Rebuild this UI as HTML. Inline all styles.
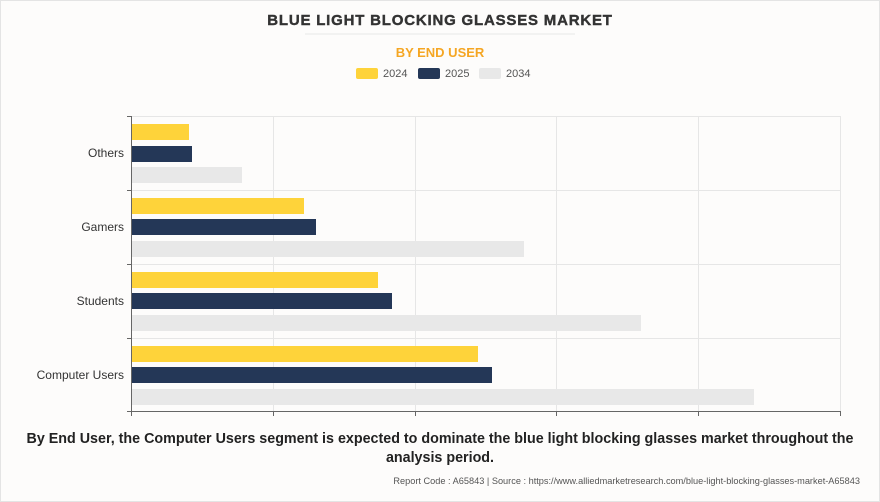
<!DOCTYPE html>
<html><head><meta charset="utf-8"><style>
html,body{margin:0;padding:0;background:#fff}
#c{position:relative;width:878px;height:500px;border:1px solid #e4e4e4;background:#fdfcfb;font-family:"Liberation Sans",Arial,sans-serif;overflow:hidden}
</style></head><body><div id="c">
<svg width="878" height="500" viewBox="1 1 878 500" style="position:absolute;left:0;top:0">
<text x="440" y="25" text-anchor="middle" font-size="15" font-weight="bold" fill="#333" stroke="#333" stroke-width="0.4" letter-spacing="0.8">BLUE LIGHT BLOCKING GLASSES MARKET</text>
<line x1="305" y1="34" x2="575" y2="34" stroke="#eee" stroke-width="1.5"/>
<text x="440" y="57" text-anchor="middle" font-size="13" font-weight="bold" fill="#f5a623">BY END USER</text>
<rect x="356" y="68" width="22" height="11" rx="2" fill="#fed33a"/><text x="383" y="77" font-size="11" fill="#555">2024</text>
<rect x="418" y="68" width="22" height="11" rx="2" fill="#243757"/><text x="445" y="77" font-size="11" fill="#555">2025</text>
<rect x="479" y="68" width="22" height="11" rx="2" fill="#e8e8e8"/><text x="506" y="77" font-size="11" fill="#555">2034</text>
<g stroke="#e6e6e6" stroke-width="1">
<line x1="273.5" y1="116" x2="273.5" y2="411"/><line x1="415.5" y1="116" x2="415.5" y2="411"/><line x1="556.5" y1="116" x2="556.5" y2="411"/><line x1="698.5" y1="116" x2="698.5" y2="411"/><line x1="840.5" y1="116" x2="840.5" y2="411"/>
<line x1="132" y1="116.5" x2="840" y2="116.5"/><line x1="132" y1="190.5" x2="840" y2="190.5"/><line x1="132" y1="264.5" x2="840" y2="264.5"/><line x1="132" y1="338.5" x2="840" y2="338.5"/>
</g>
<g fill="#fed33a"><rect x="132" y="124" width="57" height="16"/><rect x="132" y="198" width="172" height="16"/><rect x="132" y="272" width="246" height="16"/><rect x="132" y="346" width="346" height="16"/></g>
<g fill="#243757"><rect x="132" y="146" width="60" height="16"/><rect x="132" y="219" width="184" height="16"/><rect x="132" y="293" width="260" height="16"/><rect x="132" y="367" width="360" height="16"/></g>
<g fill="#e8e8e8"><rect x="132" y="167" width="110" height="16"/><rect x="132" y="241" width="392" height="16"/><rect x="132" y="315" width="509" height="16"/><rect x="132" y="389" width="622" height="16"/></g>
<g stroke="#666" stroke-width="1">
<line x1="131.5" y1="116" x2="131.5" y2="416"/><line x1="131" y1="411.5" x2="841" y2="411.5"/>
<line x1="127" y1="116.5" x2="131" y2="116.5"/><line x1="127" y1="190.5" x2="131" y2="190.5"/><line x1="127" y1="264.5" x2="131" y2="264.5"/><line x1="127" y1="338.5" x2="131" y2="338.5"/><line x1="127" y1="411.5" x2="131" y2="411.5"/>
<line x1="273.5" y1="411" x2="273.5" y2="416"/><line x1="415.5" y1="411" x2="415.5" y2="416"/><line x1="556.5" y1="411" x2="556.5" y2="416"/><line x1="698.5" y1="411" x2="698.5" y2="416"/><line x1="840.5" y1="411" x2="840.5" y2="416"/>
</g>
<g font-size="12" fill="#333" text-anchor="end">
<text x="124" y="157">Others</text><text x="124" y="231">Gamers</text><text x="124" y="305">Students</text><text x="124" y="379">Computer Users</text>
</g>
<text x="440" y="443" text-anchor="middle" font-size="14.3" font-weight="bold" fill="#222">By End User, the Computer Users segment is expected to dominate the blue light blocking glasses market throughout the</text>
<text x="440" y="462" text-anchor="middle" font-size="14.3" font-weight="bold" fill="#222">analysis period.</text>
<text x="860" y="484" text-anchor="end" font-size="9.2" fill="#555">Report Code : A65843  |  Source : https://www.alliedmarketresearch.com/blue-light-blocking-glasses-market-A65843</text>
</svg></div></body></html>
